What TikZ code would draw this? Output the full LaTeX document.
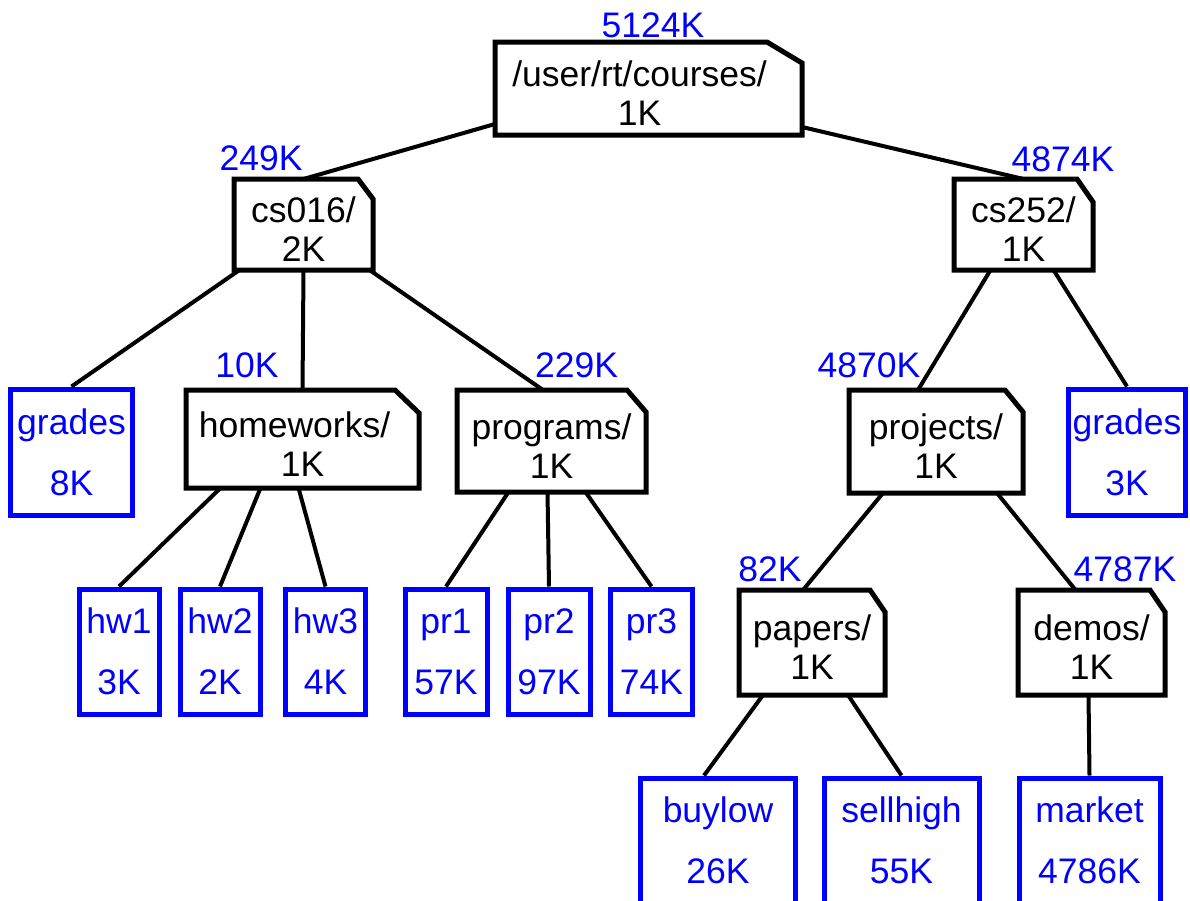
\documentclass[tikz,border=0pt]{standalone}
\usepackage{fontspec}
\setmainfont{Liberation Sans}

\tikzset{
  dir/.style={rectangle, inner sep=0pt, outer sep=0pt, align=center, text height=74pt,
    text depth=0pt, font=\fontsize{35.5}{39}\selectfont},
  file/.style={draw=blue, text=blue, line width=5pt, inner sep=0pt, minimum width=80pt,
    minimum height=125pt, align=center, font=\fontsize{35.5}{61}\selectfont},
  size/.style={text=blue, anchor=base, inner sep=0pt, font=\fontsize{35.5}{39}\selectfont},
  link/.style={line width=4pt},
  fold/.style={line width=5pt, line join=miter},
}
% outline of a directory: node, cut width, cut height
\newcommand\folderline[3]{%
  \draw[fold] (#1.south west) -- (#1.north west) -- ([xshift=-#2]#1.north east)
    -- ([yshift=-#3]#1.north east) -- (#1.south east) -- cycle;}

\begin{document}
\begin{tikzpicture}[x=1pt,y=-1pt]
    \useasboundingbox (0,0) rectangle (1190,900);
    \clip (0,0) rectangle (1190,900);

    % directories
    \node[dir, minimum width=307pt, minimum height=93pt] (root) at (648.5,88.5) {/user/rt/courses/\hspace*{18pt}\\1K\hspace*{18pt}};
    \node[dir, minimum width=139pt, minimum height=91pt] (cs016) at (303.5,224.5) {cs016/\\2K};
    \node[dir, minimum width=139pt, minimum height=91pt] (cs252) at (1023.5,224.5) {cs252/\\1K};
    \node[dir, minimum width=233pt, minimum height=98pt] (homeworks) at (302.5,439) {homeworks/\hspace*{16pt}\\1K};
    \node[dir, minimum width=189pt, minimum height=102pt] (programs) at (551.5,441) {programs/\\1K};
    \node[dir, minimum width=174pt, minimum height=103pt] (projects) at (936,441.5) {projects/\\1K};
    \node[dir, minimum width=146pt, minimum height=105pt] (papers) at (812,642.5) {papers/\\1K};
    \node[dir, minimum width=147pt, minimum height=105pt] (demos) at (1091.5,642.5) {demos/\\1K};

    \folderline{root}{35pt}{21pt}
    \folderline{cs016}{15pt}{20pt}
    \folderline{cs252}{16pt}{23pt}
    \folderline{homeworks}{24pt}{23pt}
    \folderline{programs}{19pt}{22pt}
    \folderline{projects}{18pt}{22pt}
    \folderline{papers}{15pt}{22pt}
    \folderline{demos}{15pt}{22pt}

    % files
    \node[file, minimum width=122pt, minimum height=126pt] (grades1) at (71.5,452) {grades\\8K};
    \node[file, minimum width=117pt, minimum height=126pt] (grades2) at (1127,452) {grades\\3K};
    \node[file] (hw1) at (119,651.5) {hw1\\3K};
    \node[file] (hw2) at (220,651.5) {hw2\\2K};
    \node[file] (hw3) at (325.5,651.5) {hw3\\4K};
    \node[file, minimum width=82pt] (pr1) at (446,651.5) {pr1\\57K};
    \node[file, minimum width=82pt] (pr2) at (549,651.5) {pr2\\97K};
    \node[file, minimum width=82pt] (pr3) at (651.5,651.5) {pr3\\74K};
    \node[file, minimum width=155pt] (buylow) at (718,840.5) {buylow\\26K};
    \node[file, minimum width=155pt] (sellhigh) at (901.5,840.5) {sellhigh\\55K};
    \node[file, minimum width=141pt] (market) at (1089.5,840.5) {market\\4786K};

    % total sizes
    \node[size] (rootsz) at (653,37) {5124K};
    \node[size] (cs016sz) at (261,170) {249K};
    \node[size] (cs252sz) at (1063,171) {4874K};
    \node[size] (hwsz) at (247,377) {10K};
    \node[size] (prsz) at (576.5,377) {229K};
    \node[size] (projsz) at (869,377) {4870K};
    \node[size] (papsz) at (770,581) {82K};
    \node[size] (demsz) at (1125,581) {4787K};

    \draw[link] ([yshift=-35.5pt]root.west) -- (cs016.north);
    \draw[link] ([yshift=-38.5pt]root.east) -- (cs252.north);

    \draw[link] ([xshift=-64pt]cs016.south) -- (grades1.north);
    \draw[link] (cs016.south) -- (homeworks.north);
    \draw[link] ([xshift=66pt]cs016.south) -- ([xshift=-8.5pt]programs.north);

    \draw[link] ([xshift=-82pt]homeworks.south) -- (hw1.north);
    \draw[link] ([xshift=-42pt]homeworks.south) -- (hw2.north);
    \draw[link] ([xshift=-4pt]homeworks.south) -- (hw3.north);

    \draw[link] ([xshift=-43pt]programs.south) -- (pr1.north);
    \draw[link] ([xshift=-4pt]programs.south) -- (pr2.north);
    \draw[link] ([xshift=34pt]programs.south) -- (pr3.north);

    \draw[link] ([xshift=-33pt]cs252.south) -- ([xshift=-18pt]projects.north);
    \draw[link] ([xshift=30pt]cs252.south) -- (grades2.north);

    \draw[link] ([xshift=-53pt]projects.south) -- ([xshift=-9pt]papers.north);
    \draw[link] ([xshift=61pt]projects.south) -- ([xshift=-16pt]demos.north);

    \draw[link] ([xshift=-49pt]papers.south) -- ([xshift=-14pt]buylow.north);
    \draw[link] ([xshift=36pt]papers.south) -- (sellhigh.north);
    \draw[link] ([xshift=-3pt]demos.south) -- (market.north);
\end{tikzpicture}
\end{document}
